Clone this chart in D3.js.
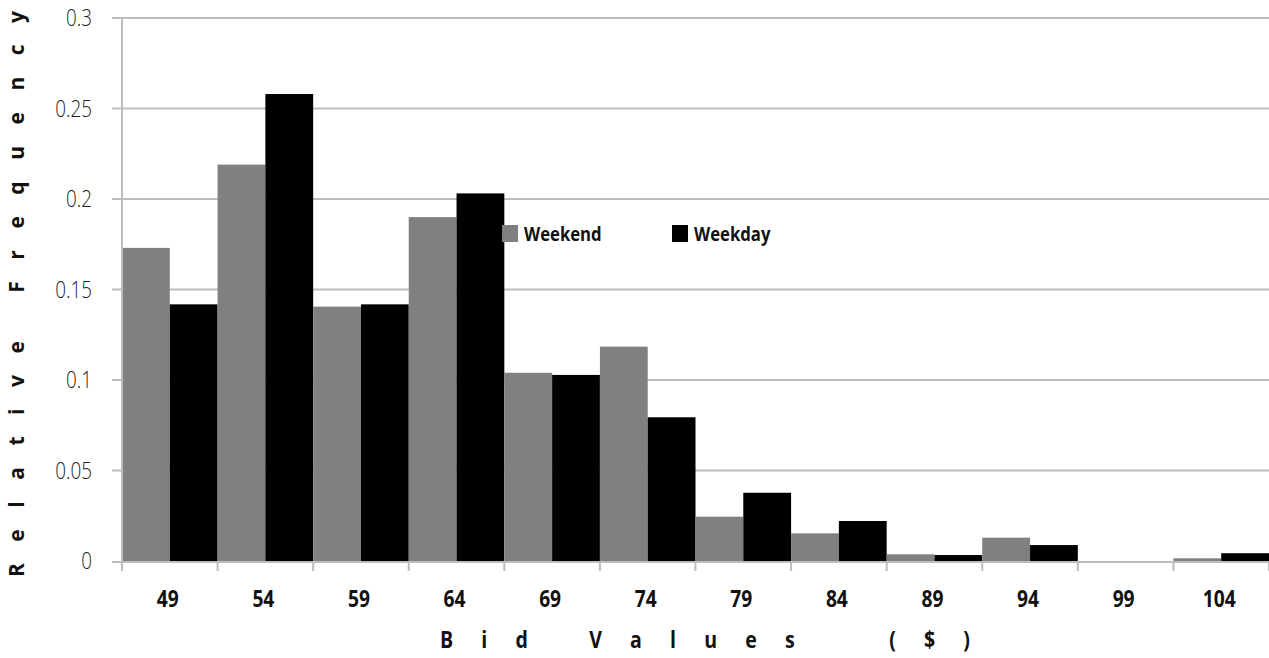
<!DOCTYPE html>
<html>
<head>
<meta charset="utf-8">
<script src="https://cdn.jsdelivr.net/npm/d3@7"></script>
<style>
  html, body { margin: 0; padding: 0; background: #fff; }
  svg { display: block; }
</style>
</head>
<body>
<svg id="chart" width="1269" height="658"></svg>
<script>
const categories = ["49","54","59","64","69","74","79","84","89","94","99","104"];
const weekend = [0.173,0.219,0.1405,0.190,0.104,0.1184,0.0245,0.0153,0.0037,0.0129,0,0.0015];
const weekday = [0.1418,0.258,0.1418,0.2031,0.1028,0.0794,0.0377,0.0221,0.0033,0.0088,0,0.0043];
const seriesNames = ["Weekend","Weekday"];
const seriesColors = ["#808080","#000000"];
const yTicks = [0,0.05,0.1,0.15,0.2,0.25,0.3];
const yTickLabels = ["0","0.05","0.1","0.15","0.2","0.25","0.3"];

(function () {
const svg = d3.select("#chart");
const mLeft = 122, mRight = 1269, mTop = 18, mBottom = 561;

const x = d3.scaleBand().domain(categories).range([mLeft, mRight]).padding(0);
const xs = d3.scaleBand().domain(seriesNames).range([0, x.bandwidth()]).padding(0);
const y = d3.scaleLinear().domain([0, 0.3]).range([mBottom, mTop]);

const gridColor = "#bdbdbd";

// gridlines
svg.append("g")
  .selectAll("line").data(yTicks.filter(d => d > 0)).join("line")
  .attr("x1", mLeft - 10).attr("x2", mRight)
  .attr("y1", d => y(d)).attr("y2", d => y(d))
  .attr("stroke", gridColor).attr("stroke-width", 2);

// y tick labels (condensed)
svg.append("g")
  .selectAll("g").data(yTicks).join("g")
  .attr("transform", d => `translate(92,${y(d)}) scale(0.82,1)`)
  .append("text")
  .attr("dy", "0.36em")
  .attr("text-anchor", "end")
  .attr("font-family", "'Open Sans', sans-serif")
  .attr("font-weight", 300)
  .attr("font-size", 23)
  .attr("fill", "#222")
  .text((d, i) => yTickLabels[i]);

// bars
const rows = categories.map((c, i) => ({cat: c, vals: [weekend[i], weekday[i]]}));
const groups = svg.append("g").selectAll("g").data(rows).join("g")
  .attr("transform", d => `translate(${x(d.cat)},0)`);
groups.selectAll("rect")
  .data(d => d.vals.map((v, j) => ({name: seriesNames[j], v, j})))
  .join("rect")
  .attr("x", d => xs(d.name))
  .attr("width", xs.bandwidth())
  .attr("y", d => y(d.v))
  .attr("height", d => mBottom - y(d.v))
  .attr("fill", d => seriesColors[d.j]);

// axes lines
svg.append("line")
  .attr("x1", mLeft).attr("x2", mLeft).attr("y1", mTop).attr("y2", mBottom + 10)
  .attr("stroke", gridColor).attr("stroke-width", 2);
svg.append("line")
  .attr("x1", mLeft - 10).attr("x2", mRight).attr("y1", mBottom + 1).attr("y2", mBottom + 1)
  .attr("stroke", gridColor).attr("stroke-width", 2);

// x tick marks at category boundaries
const boundaries = categories.map(c => x(c)).concat([mRight]);
svg.append("g")
  .selectAll("line").data(boundaries).join("line")
  .attr("x1", d => d).attr("x2", d => d)
  .attr("y1", mBottom).attr("y2", mBottom + 10)
  .attr("stroke", gridColor).attr("stroke-width", 2);

// x tick labels (condensed bold)
svg.append("g")
  .selectAll("g").data(categories).join("g")
  .attr("transform", d => `translate(${x(d) + x.bandwidth() / 2 - 2},607) scale(0.8,1)`)
  .append("text")
  .attr("text-anchor", "middle")
  .attr("font-family", "'Open Sans', sans-serif")
  .attr("font-weight", "bold")
  .attr("font-size", 24)
  .attr("fill", "#111")
  .text(d => d);

// x axis title
svg.append("g")
  .attr("transform", "translate(440,648) scale(0.85,1)")
  .append("text")
  .attr("font-family", "'Open Sans', sans-serif")
  .attr("font-weight", "bold")
  .attr("font-size", 23)
  .attr("fill", "#111")
  .style("white-space", "pre")
  .attr("textLength", 530 / 0.85)
  .attr("lengthAdjust", "spacing")
  .text("Bid Values  ($)");

// y axis title
svg.append("text")
  .attr("transform", "translate(24,577) rotate(-90)")
  .attr("x", 0).attr("y", 0)
  .attr("font-family", "'Open Sans', sans-serif")
  .attr("font-weight", "bold")
  .attr("font-size", 21)
  .attr("fill", "#111")
  .attr("textLength", 566)
  .attr("lengthAdjust", "spacing")
  .text("Relative Frequency");

// legend
const legendX = [502, 672];
const leg = svg.append("g").selectAll("g").data(seriesNames).join("g")
  .attr("transform", (d, i) => `translate(${legendX[i]},225)`);
leg.append("rect").attr("width", 16).attr("height", 17)
  .attr("fill", (d, i) => seriesColors[i]);
leg.append("g").attr("transform", "translate(22,9) scale(0.88,1)")
  .append("text")
  .attr("dy", "0.36em")
  .attr("font-family", "'Open Sans', sans-serif")
  .attr("font-weight", "bold")
  .attr("font-size", 19)
  .attr("fill", "#111")
  .text(d => d);
})();
</script>
</body>
</html>
